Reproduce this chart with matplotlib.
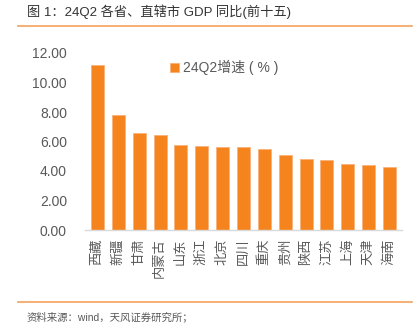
import matplotlib.pyplot as plt
from matplotlib.lines import Line2D

plt.rcParams['font.family'] = ['Liberation Sans', 'Noto Sans CJK SC', 'DejaVu Sans']

provinces = ['西藏', '新疆', '甘肃', '内蒙古', '山东', '浙江', '北京', '四川',
             '重庆', '贵州', '陕西', '江苏', '上海', '天津', '海南']
growth = [11.17, 7.82, 6.55, 6.47, 5.76, 5.68, 5.65, 5.61,
          5.52, 5.07, 4.84, 4.73, 4.46, 4.44, 4.24]
yticks = [0, 2, 4, 6, 8, 10, 12]

orange = '#F5841F'
gray = '#595959'

fig = plt.figure(figsize=(4.18, 3.30), dpi=100)
ax = fig.add_axes([85 / 418, 1 - 230 / 330, 317 / 418, 177 / 330])

x = list(range(len(provinces)))
ax.bar(x, growth, width=0.62, color=orange, edgecolor='#F9B27A', linewidth=0.6,
       label='24Q2增速 ( % )')

ax.set_xlim(-0.6, len(provinces) - 0.4)
ax.set_ylim(0, 12)
ax.set_yticks(yticks)
ax.set_yticklabels([f'{v:.2f}' for v in yticks], color=gray, fontsize=10)
ax.set_xticks(x)
ax.set_xticklabels(provinces, rotation=90, color=gray, fontsize=9.5)
ax.tick_params(axis='both', length=0)
ax.tick_params(axis='y', pad=13)
ax.tick_params(axis='x', pad=6)
for s in ['top', 'right', 'left']:
    ax.spines[s].set_visible(False)
ax.spines['bottom'].set_color('#D9D9D9')
ax.spines['bottom'].set_linewidth(1.0)

ax.legend(loc='upper left', bbox_to_anchor=(0.23, 1.03), frameon=False,
          handlelength=0.6, handleheight=0.6, handletextpad=0.3,
          fontsize=10, labelcolor=gray)

# title and source
fig.text(27 / 418, 1 - 12 / 330, '图 1：24Q2 各省、直辖市 GDP 同比(前十五)',
         fontsize=9.5, color='#333333', va='center', ha='left')
fig.add_artist(Line2D([18 / 418, 412 / 418], [1 - 26 / 330, 1 - 26 / 330],
                      color='#F5A25D', linewidth=1.2))
fig.add_artist(Line2D([18 / 418, 412 / 418], [1 - 302 / 330, 1 - 302 / 330],
                      color='#F5A25D', linewidth=1.2))
fig.text(27 / 418, 1 - 317 / 330, '资料来源：wind，天风证券研究所；',
         fontsize=7.5, color=gray, va='center', ha='left')

fig.savefig('out.png', dpi=100)
